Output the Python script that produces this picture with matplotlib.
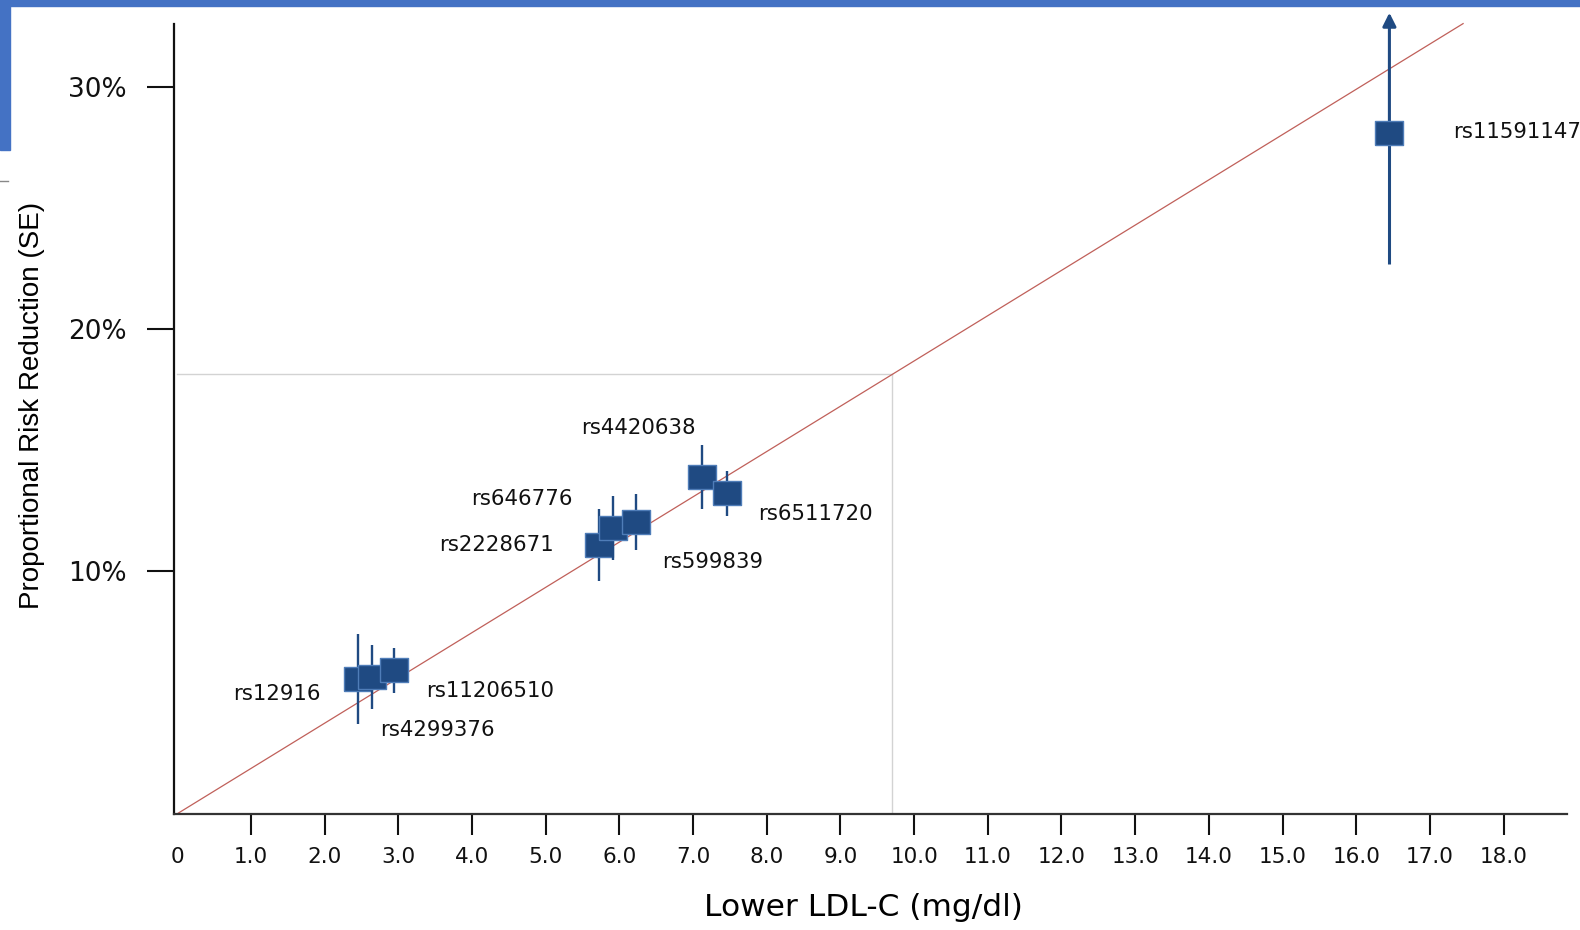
import matplotlib.pyplot as plt
from matplotlib.patches import Rectangle

# data
snps = ['rs12916', 'rs4299376', 'rs11206510', 'rs2228671', 'rs646776',
        'rs599839', 'rs4420638', 'rs6511720', 'rs11591147']
ldl = [2.46, 2.64, 2.94, 5.73, 5.91, 6.22, 7.12, 7.46, 16.45]      # mg/dl
prr = [5.55, 5.65, 5.93, 11.09, 11.79, 12.04, 13.89, 13.23, 28.1]  # %
se = [1.85, 1.33, 0.93, 1.49, 1.33, 1.14, 1.33, 0.93, 5.4]

# label anchors (x, y, ha)
lab_x = [1.94, 2.75, 3.38, 5.11, 5.36, 6.58, 5.48, 7.88, 17.32]
lab_y = [4.94, 3.47, 5.07, 11.09, 12.99, 10.39, 15.92, 12.37, 28.13]
lab_ha = ['right', 'left', 'left', 'right', 'right', 'left', 'left', 'left', 'left']

ref_x = [0, 17.45]
ref_y = [0, 32.6]
guide_x = 9.7
guide_y = 18.15

xticks = list(range(0, 19))
xticklabels = ['0'] + [f'{v:.1f}' for v in range(1, 19)]
yticks = [10, 20, 30]
yticklabels = ['10%', '20%', '30%']

dark = '#1f4a82'
edge = '#4f7db8'

fig = plt.figure(figsize=(15.8, 9.3), dpi=100)
ax = fig.add_axes([173.5 / 1580, (930 - 813.8) / 930, 1393.5 / 1580, (813.8 - 12.7) / 930])
ax.set_xlim(-0.05, 18.86)
ax.set_ylim(0, 33.05)

# guide lines and reference line
ax.plot([0, guide_x], [guide_y, guide_y], color='#d3d3d3', lw=1, zorder=1)
ax.plot([guide_x, guide_x], [0, guide_y], color='#d3d3d3', lw=1, zorder=1)
ax.plot(ref_x, ref_y, color='#c0605a', lw=0.9, zorder=2, clip_on=False)

rect = [(-13, -11), (13, -11), (13, 11), (-13, 11), (-13, -11)]
top = ax.get_ylim()[1]
for i in range(len(snps)):
    z = 3 + i
    if prr[i] + se[i] > top:
        ax.errorbar(ldl[i], prr[i], yerr=[[se[i]], [0]], fmt='none', ecolor=dark,
                    elinewidth=2.2, capsize=0, zorder=z)
        ax.annotate('', xy=(ldl[i], top), xytext=(ldl[i], prr[i]), annotation_clip=False,
                    arrowprops=dict(arrowstyle='-|>', color=dark, lw=2.2,
                                    mutation_scale=20, shrinkA=0, shrinkB=0), zorder=z)
    else:
        ax.errorbar(ldl[i], prr[i], yerr=se[i], fmt='none', ecolor=dark,
                    elinewidth=1.7, capsize=0, zorder=z)
    ax.plot(ldl[i], prr[i], marker=rect, ms=20, mfc=dark, mec=edge, mew=1,
            ls='none', zorder=z + 0.5)
    ax.text(lab_x[i], lab_y[i], snps[i], ha=lab_ha[i], va='center', fontsize=15.3,
            family='DejaVu Sans', color='#111111', clip_on=False)

# axes styling
for s in ['top', 'right']:
    ax.spines[s].set_visible(False)
ax.spines['left'].set_bounds(0, 32.6)
ax.spines['left'].set_linewidth(1.6)
ax.spines['bottom'].set_linewidth(1.6)
ax.spines['left'].set_color('#111111')
ax.spines['bottom'].set_color('#333333')

ax.set_xticks(xticks)
ax.set_xticklabels(xticklabels, fontsize=15.5, family='DejaVu Sans')
ax.xaxis.get_major_ticks()[0].tick1line.set_visible(False)
ax.tick_params(axis='x', direction='out', length=15, width=1.5, pad=9, colors='#111111')
ax.set_yticks(yticks)
ax.set_yticklabels(yticklabels, fontsize=19, family='DejaVu Sans')
ax.tick_params(axis='y', direction='out', length=19.5, width=1.5, pad=14, colors='#111111')

ax.set_xlabel('Lower LDL-C (mg/dl)', fontsize=22.5, family='DejaVu Sans')
ax.xaxis.set_label_coords(0.4952, -0.099)
ax.set_ylabel('Proportional Risk Reduction (SE)', fontsize=20, family='Liberation Sans')
ax.yaxis.set_label_coords(-0.092, 0.51)

# slide decoration
fig.patches.append(Rectangle((0, 1 - 6 / 930), 1, 6 / 930, transform=fig.transFigure,
                             color='#4472c4', zorder=10))
fig.patches.append(Rectangle((0, 1 - 150 / 930), 10 / 1580, 150 / 930, transform=fig.transFigure,
                             color='#4472c4', zorder=10))
fig.lines.append(plt.Line2D([0, 8 / 1580], [1 - 181 / 930, 1 - 181 / 930],
                            transform=fig.transFigure, color='#888888', lw=1))

fig.savefig('out.png', dpi=100)
